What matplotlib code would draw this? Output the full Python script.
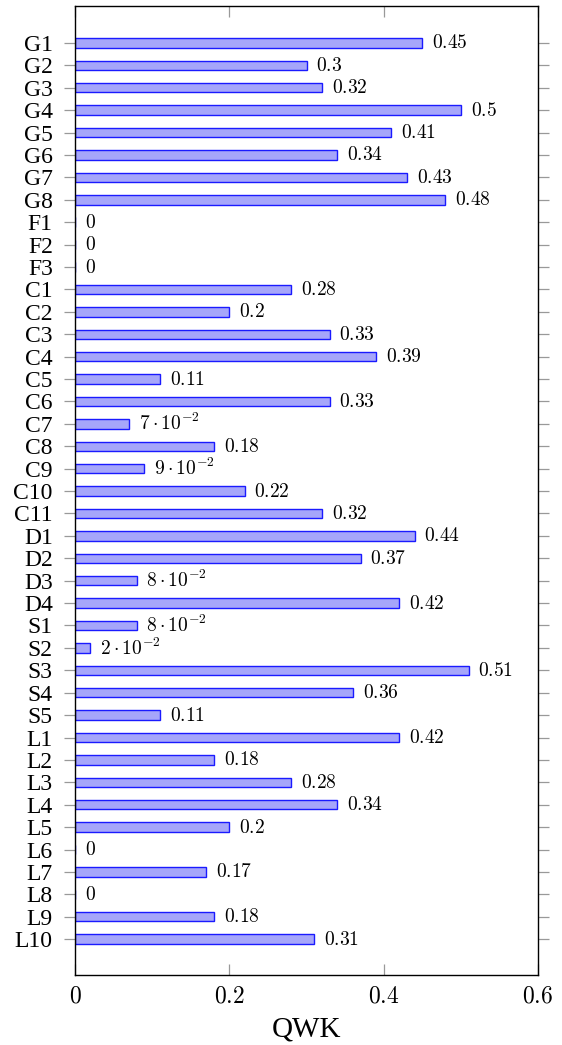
import matplotlib
matplotlib.use("Agg")
import matplotlib.pyplot as plt

categories = ["G1", "G2", "G3", "G4", "G5", "G6", "G7", "G8", "F1", "F2", "F3",
              "C1", "C2", "C3", "C4", "C5", "C6", "C7", "C8", "C9", "C10", "C11",
              "D1", "D2", "D3", "D4", "S1", "S2", "S3", "S4", "S5",
              "L1", "L2", "L3", "L4", "L5", "L6", "L7", "L8", "L9", "L10"]
qwk = [0.45, 0.30, 0.32, 0.50, 0.41, 0.34, 0.43, 0.48, 0.0, 0.0, 0.0,
       0.28, 0.20, 0.33, 0.39, 0.11, 0.33, 0.07, 0.18, 0.09, 0.22, 0.32,
       0.44, 0.37, 0.08, 0.42, 0.08, 0.02, 0.51, 0.36, 0.11,
       0.42, 0.18, 0.28, 0.34, 0.20, 0.0, 0.17, 0.0, 0.18, 0.31]
xticks = [0, 0.2, 0.4, 0.6]
xticklabels = ["0", "0.2", "0.4", "0.6"]

plt.rcParams['mathtext.fontset'] = 'cm'

def fmt(v):
    if v == 0:
        return r"$0$"
    if v < 0.1:
        m = int(round(v * 100))
        return r"$%d\cdot10^{-2}$" % m
    s = ("%.2f" % v).rstrip("0")
    return r"$%s$" % s

fig = plt.figure(figsize=(5.62, 10.45), dpi=100)
ax = fig.add_axes([75/562, 1-975/1045, (538-75)/562, (975-6)/1045])

y = list(range(len(categories)))
ax.barh(y, qwk, height=0.42, color=(0.65, 0.65, 0.98), edgecolor=(0.1, 0.1, 1.0), linewidth=1.0)
for yi, v in zip(y, qwk):
    ax.annotate(fmt(v), (v, yi), xytext=(7, 0), textcoords="offset points",
                ha="left", va="center", fontsize=14)

ax.set_xlim(0, 0.6)
ax.set_ylim(len(categories) - 1 + 1.6, -1.65)
ax.set_yticks(y)
ax.set_yticklabels(categories, family="Liberation Serif", fontsize=17)
ax.set_xticks(xticks)
ax.set_xticklabels([r"$%s$" % t for t in xticklabels], fontsize=17)
ax.tick_params(axis="y", which="both", direction="out", length=8, color="0.6",
               left=True, right=True, width=0.9, pad=8)
ax.tick_params(axis="x", which="both", direction="in", length=8, color="0.6",
               top=True, bottom=True, width=0.9, pad=6)
for s in ax.spines.values():
    s.set_linewidth(1.0)
ax.set_xlabel("QWK", family="Liberation Serif", fontsize=21, labelpad=6.5)

fig.savefig("out.png", dpi=100)
